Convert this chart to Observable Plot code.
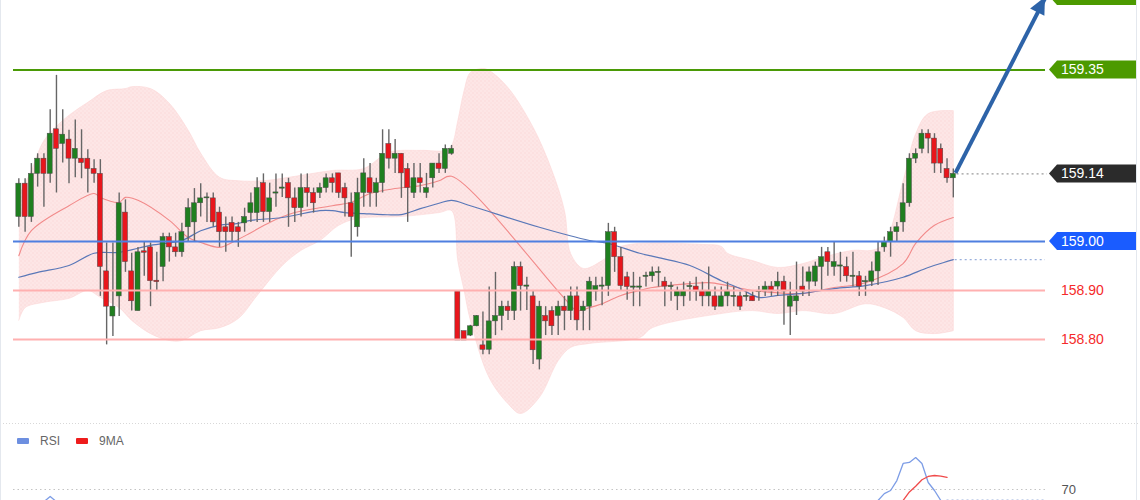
<!DOCTYPE html>
<html><head><meta charset="utf-8">
<script src="https://cdn.jsdelivr.net/npm/d3@7"></script>
<script src="https://cdn.jsdelivr.net/npm/@observablehq/plot@0.6"></script>
<style>
body{margin:0;background:#fff;font-family:"Liberation Sans",Arial,sans-serif}
#chart svg{display:block;overflow:hidden;background:#fff}
</style>
</head><body><div id="chart"></div>
<script>
// ---- candle data (index 0..149) ----
const opens = [159.050,159.118,159.050,159.138,159.169,159.138,159.229,159.199,159.208,159.169,
159.169,159.169,159.148,159.138,158.939,158.847,158.888,159.059,158.939,158.858,
158.980,158.988,158.920,158.948,159.009,158.988,158.978,159.029,159.039,159.078,
159.088,159.088,159.059,159.029,159.038,159.029,159.037,159.058,159.058,159.119,
159.060,159.099,159.109,159.119,159.088,159.068,159.109,159.099,159.099,159.109,
159.129,159.139,159.109,159.078,159.029,159.099,159.129,159.099,159.119,159.199,
159.169,159.179,159.148,159.099,159.129,159.099,159.129,159.159,159.148,159.179,
158.898,158.817,158.808,158.827,158.788,158.779,158.837,158.848,158.867,158.858,
158.948,158.909,158.888,158.759,158.848,158.858,158.848,158.867,158.858,158.888,
158.858,158.867,158.898,158.909,158.909,159.019,158.968,158.927,158.907,158.907,
158.929,158.929,158.937,158.918,158.908,158.888,158.888,158.908,158.908,158.898,
158.888,158.888,158.867,158.888,158.888,158.888,158.888,158.888,158.898,158.898,
158.908,158.908,158.918,158.867,158.878,158.908,158.918,158.918,158.948,158.978,
158.948,158.950,158.948,158.929,158.929,158.918,158.918,158.939,158.988,158.999,
159.019,159.039,159.078,159.169,159.189,159.220,159.210,159.189,159.148,159.129];
const highs = [159.128,159.128,159.159,159.179,159.179,159.269,159.339,159.269,159.227,159.248,
159.228,159.187,159.167,159.167,158.997,158.997,159.099,159.085,158.976,158.988,
158.999,158.997,158.978,159.017,159.017,159.017,159.037,159.087,159.108,159.118,
159.099,159.099,159.070,159.050,159.050,159.039,159.068,159.099,159.130,159.138,
159.119,159.138,159.138,159.129,159.109,159.138,159.138,159.109,159.119,159.138,
159.138,159.139,159.119,159.099,159.129,159.169,159.159,159.129,159.228,159.228,
159.208,159.179,159.159,159.159,159.159,159.139,159.159,159.179,159.197,159.196,
158.900,158.817,158.829,158.849,158.856,158.907,158.937,158.878,158.878,158.958,
158.958,158.927,158.898,158.878,158.867,158.867,158.878,158.888,158.907,158.907,
158.878,158.927,158.927,158.927,159.037,159.029,158.988,158.937,158.937,158.927,
158.937,158.948,158.948,158.927,158.917,158.907,158.917,158.918,158.927,158.917,
158.948,158.907,158.907,158.917,158.907,158.897,158.897,158.897,158.908,158.918,
158.918,158.937,158.929,158.917,158.958,158.948,158.948,158.958,158.988,158.988,
158.999,158.978,158.968,158.978,158.939,158.929,158.958,158.999,159.009,159.029,
159.039,159.118,159.179,159.189,159.228,159.228,159.220,159.199,159.169,159.148];
const lows = [159.029,159.019,159.039,159.111,159.070,159.119,159.099,159.160,159.118,159.130,
159.128,159.099,159.119,158.888,158.789,158.806,158.847,158.937,158.858,158.858,
158.929,158.867,158.899,158.918,158.958,158.968,158.968,158.999,158.999,159.050,
159.039,159.029,158.988,158.978,158.999,158.988,159.019,159.039,159.039,159.039,
159.039,159.070,159.090,159.029,159.039,159.050,159.070,159.058,159.088,159.099,
159.099,159.088,159.050,158.968,159.009,159.070,159.070,159.070,159.099,159.148,
159.139,159.088,159.039,159.088,159.099,159.088,159.109,159.139,159.139,159.176,
158.798,158.798,158.806,158.826,158.769,158.769,158.808,158.818,158.839,158.839,
158.858,158.859,158.749,158.738,158.808,158.808,158.808,158.818,158.839,158.818,
158.818,158.818,158.878,158.869,158.888,158.937,158.898,158.880,158.867,158.867,
158.907,158.917,158.907,158.867,158.878,158.859,158.867,158.878,158.878,158.867,
158.867,158.859,158.867,158.867,158.867,158.859,158.878,158.878,158.878,158.888,
158.888,158.888,158.829,158.808,158.849,158.888,158.888,158.908,158.900,158.929,
158.929,158.917,158.917,158.907,158.888,158.888,158.908,158.910,158.978,158.968,
158.999,159.019,159.070,159.159,159.179,159.179,159.139,159.139,159.119,159.089];
const closes = [159.118,159.050,159.138,159.169,159.138,159.220,159.189,159.218,159.169,159.189,
159.160,159.148,159.138,158.948,158.867,158.867,159.078,158.958,158.878,158.978,
158.977,158.919,158.917,159.009,158.988,158.978,159.019,159.068,159.078,159.088,
159.090,159.039,159.019,159.019,159.019,159.019,159.050,159.078,159.109,159.060,
159.088,159.099,159.109,159.088,159.068,159.109,159.099,159.078,159.109,159.129,
159.119,159.099,159.088,159.050,159.099,159.139,159.099,159.119,159.179,159.169,
159.179,159.139,159.109,159.129,159.119,159.109,159.159,159.148,159.189,159.189,
158.798,158.798,158.827,158.848,158.779,158.837,158.848,158.867,158.858,158.948,
158.909,158.909,158.778,158.867,158.837,158.827,158.867,158.858,158.888,158.839,
158.867,158.918,158.909,158.909,159.019,158.968,158.909,158.907,158.907,158.907,
158.929,158.937,158.937,158.908,158.908,158.898,158.898,158.908,158.898,158.888,
158.898,158.867,158.888,158.898,158.888,158.867,158.888,158.878,158.898,158.908,
158.898,158.918,158.898,158.888,158.888,158.898,158.937,158.949,158.968,158.958,
158.958,158.950,158.929,158.929,158.908,158.918,158.939,158.978,158.999,159.019,
159.029,159.078,159.169,159.179,159.220,159.210,159.159,159.159,159.129,159.138];

// ---- overlays: [candle index, price] ----
const bbUpper = [[0,159.094],[2,159.145],[4,159.206],[7,159.247],[9,159.267],[11,159.284],[14,159.308],[17,159.312],[18,159.316],[21,159.312],[24,159.282],[27,159.227],[29,159.180],[32,159.131],[35,159.124],[39,159.124],[45,159.135],[50,159.145],[55,159.149],[59,159.182],[64,159.186],[68,159.186],[69,159.196],[70,159.247],[71,159.308],[72,159.345],[74,159.353],[75,159.349],[78,159.314],[82,159.233],[85,159.145],[87,159.063],[88,158.975],[90,158.945],[93,158.961],[96,158.990],[109,158.994],[112,158.990],[113,158.976],[117,158.961],[121,158.947],[125,158.955],[128,158.967],[133,158.982],[136,158.982],[138,158.996],[141,159.124],[143,159.220],[145,159.261],[149,159.267]];
const bbLower = [[0,158.839],[1,158.865],[4,158.876],[8,158.884],[11,158.900],[13,158.886],[16,158.865],[18,158.839],[21,158.812],[24,158.798],[26,158.798],[29,158.818],[32,158.824],[35,158.843],[38,158.890],[42,158.951],[45,158.982],[48,159.002],[51,159.033],[54,159.047],[61,159.051],[67,159.059],[69,159.063],[70,158.960],[71,158.900],[72,158.839],[75,158.722],[78,158.669],[80,158.649],[83,158.682],[86,158.757],[88,158.784],[91,158.792],[99,158.804],[101,158.824],[112,158.853],[117,158.859],[121,158.853],[125,158.859],[130,158.853],[135,158.873],[138,158.865],[141,158.845],[143,158.818],[146,158.812],[149,158.818]];
const maRed = [[0,158.971],[2,159.022],[8,159.073],[12,159.098],[13,159.090],[16,159.080],[17,159.090],[19,159.084],[24,159.043],[27,159.008],[29,158.998],[32,158.988],[34,158.998],[37,159.018],[40,159.039],[44,159.059],[50,159.073],[53,159.080],[56,159.098],[60,159.108],[64,159.114],[67,159.124],[69,159.133],[87,158.884],[89,158.859],[91,158.865],[93,158.873],[96,158.890],[99,158.900],[101,158.906],[107,158.914],[110,158.916],[113,158.910],[117,158.900],[123,158.894],[125,158.894],[130,158.906],[135,158.916],[141,158.955],[143,158.996],[146,159.033],[149,159.049]];
const maBlue = [[0,158.927],[3,158.937],[8,158.951],[12,158.976],[16,158.978],[21,158.992],[26,159.002],[29,159.022],[32,159.033],[35,159.037],[37,159.043],[42,159.049],[48,159.063],[50,159.063],[52,159.059],[55,159.057],[58,159.055],[61,159.055],[64,159.067],[67,159.078],[69,159.084],[72,159.073],[83,159.029],[91,159.002],[94,158.996],[99,158.976],[102,158.967],[107,158.951],[112,158.920],[115,158.904],[118,158.886],[121,158.890],[125,158.894],[130,158.904],[135,158.910],[141,158.927],[145,158.947],[149,158.963]];

// ---- levels / tags ----
const levelPrices = [159.35, 159.00, 158.90, 158.80];
const levelColors = ["#4a9a06", "#4f7fe0", "#ffb0b0", "#ffb0b0"];
const targetPrice = 159.50;
const arrowFrom = [149.35, 159.14];
const arrowTo = [163.7, 159.498];

// ---- RSI panel ----
const rsiLeft = [[3,60],[4,62.5],[5,65.7],[6,62.5],[7,60]];
const rsiRight = [[136,58],[137,63.3],[138,67.5],[139,69.4],[140,75.5],[141,86.0],[142,86.6],[143,89.6],[144,86.0],[145,74.3],[146,69.4],[147,63.3],[148,57]];
const ma9 = [[140,60],[141,63.3],[142,68.5],[143,72],[144,76],[145,78],[146,78.6],[147,78.2],[148,77.4]];
const rsiLevel = 70;
const rsiCurrent = 63.5;

const FONT = "Liberation Sans, Arial, sans-serif";
const candles = opens.map((o, i) => ({i, o, h: highs[i], l: lows[i], c: closes[i]}));
const up = candles.filter(d => d.c >= d.o);
const down = candles.filter(d => d.c < d.o);
const bodyTop = d => Math.abs(d.o - d.c) < 0.002 ? (d.o + d.c) / 2 + 0.0012 : Math.max(d.o, d.c);
const bodyBot = d => Math.abs(d.o - d.c) < 0.002 ? (d.o + d.c) / 2 - 0.0012 : Math.min(d.o, d.c);
// closed outline: repeat the corner points so the smooth curve keeps square ends
const uLast = bbUpper[bbUpper.length - 1], lLast = bbLower[bbLower.length - 1];
const bandOutline = [bbUpper[0], ...bbUpper, uLast, lLast, ...bbLower.slice().reverse(), bbLower[0]];
const lastClose = closes[closes.length - 1];
const lastIdx = candles.length - 1;
const xDomain = [-0.85, 163.7];

const main = Plot.plot({
  width: 1140, height: 423,
  marginTop: 0, marginBottom: 0, marginLeft: 13, marginRight: 95,
  x: {domain: xDomain, axis: null},
  y: {domain: [158.6286, 159.4918], axis: null},
  marks: [
    Plot.line(bandOutline, {x: d => d[0], y: d => d[1], curve: "catmull-rom", fill: "url(#bbdots)", stroke: "#fbd6d6", strokeWidth: 0.6}),
    Plot.line(maRed, {x: d => d[0], y: d => d[1], curve: "catmull-rom", stroke: "#f28a8a", strokeWidth: 1.1}),
    Plot.line(maBlue, {x: d => d[0], y: d => d[1], curve: "catmull-rom", stroke: "#5a78b8", strokeWidth: 1.2}),
    Plot.ruleX(candles, {x: "i", y1: "l", y2: "h", stroke: "#666", strokeWidth: 1.4}),
    Plot.rect(up, {x1: d => d.i - 0.4, x2: d => d.i + 0.4, y1: bodyBot, y2: bodyTop, fill: "#1f7f1f", stroke: "#4a4a4a", strokeWidth: 0.5}),
    Plot.rect(down, {x1: d => d.i - 0.4, x2: d => d.i + 0.4, y1: bodyBot, y2: bodyTop, fill: "#e8161c", stroke: "#4a4a4a", strokeWidth: 0.5}),
    Plot.ruleY(levelPrices, {y: d => d, stroke: (d, i) => levelColors[i], strokeWidth: 2}),
    Plot.ruleY([lastClose], {x1: lastIdx + 0.6, x2: xDomain[1] + 0.3, stroke: "#9a9a9a", strokeDasharray: "2,3", strokeWidth: 1.2}),
    Plot.ruleY([maBlue[maBlue.length - 1][1]], {x1: lastIdx + 0.3, x2: xDomain[1], stroke: "#9ab0dc", strokeDasharray: "2,3", strokeWidth: 1.2}),
    Plot.link([0], {x1: arrowFrom[0], y1: arrowFrom[1], x2: arrowTo[0], y2: arrowTo[1], stroke: "#2d63a8", strokeWidth: 4})
  ]
});

// pattern for Bollinger band
const svg = d3.select(main);
const pat = svg.insert("defs", ":first-child").append("pattern")
  .attr("id", "bbdots").attr("width", 4).attr("height", 4).attr("patternUnits", "userSpaceOnUse");
pat.append("rect").attr("width", 4).attr("height", 4).attr("fill", "#fde6e6");
pat.append("rect").attr("x", 0).attr("y", 0).attr("width", 1).attr("height", 1).attr("fill", "#f7cccc");
pat.append("rect").attr("x", 2).attr("y", 2).attr("width", 1).attr("height", 1).attr("fill", "#f9d4d4");

const sx = main.scale("x"), sy = main.scale("y");
// arrow head
{
  const x1 = sx.apply(arrowFrom[0]), y1 = sy.apply(arrowFrom[1]);
  const x2 = sx.apply(arrowTo[0]), y2 = sy.apply(arrowTo[1]);
  const dx = x2 - x1, dy = y2 - y1, len = Math.hypot(dx, dy);
  const ux = dx / len, uy = dy / len, L = 17, Wd = 8;
  const bx = x2 - ux * L, by = y2 - uy * L;
  svg.append("polygon").attr("fill", "#2d63a8")
    .attr("points", [[x2, y2], [bx - uy * Wd, by + ux * Wd], [bx + uy * Wd, by - ux * Wd]].map(p => p.join(",")).join(" "));
}
// price tags
const tags = [
  {v: targetPrice, bg: "#4c9a00", text: false},
  {v: levelPrices[0], bg: "#4c9a00", text: true},
  {v: lastClose, bg: "#2b2b2b", text: true},
  {v: levelPrices[1], bg: "#1a5cff", text: true}
];
const g = svg.append("g").attr("text-anchor", "start");
for (const t of tags) {
  const yy = sy.apply(t.v);
  g.append("polygon").attr("fill", t.bg)
    .attr("points", `1049,${yy} 1057,${yy - 9} 1136,${yy - 9} 1136,${yy + 9} 1057,${yy + 9}`);
  if (t.text) g.append("text").attr("x", 1061).attr("y", yy + 5).attr("fill", "#fff").attr("text-anchor", "start")
    .attr("font-size", 14).attr("font-family", FONT).text(t.v.toFixed(2));
}
for (const p of levelPrices.slice(2)) {
  g.append("text").attr("x", 1061).attr("y", sy.apply(p) + 5).attr("fill", "#f52a2a").attr("text-anchor", "start")
    .attr("font-size", 14).attr("font-family", FONT).text(p.toFixed(2));
}
svg.append("line").attr("x1", 0.5).attr("x2", 0.5).attr("y1", 0).attr("y2", 423).attr("stroke", "#e4e8ee");
svg.append("line").attr("x1", 1136.5).attr("x2", 1136.5).attr("y1", 0).attr("y2", 423).attr("stroke", "#e4e8ee");

// ---- RSI panel ----
const rsiPanel = Plot.plot({
  width: 1140, height: 77,
  marginTop: 0, marginBottom: 0, marginLeft: 13, marginRight: 95,
  x: {domain: xDomain, axis: null},
  y: {domain: [63.25, 110.5], axis: null},
  marks: [
    Plot.ruleY([rsiLevel], {stroke: "#c4c4c4", strokeDasharray: "1.5,3", strokeWidth: 1.2}),
    Plot.ruleY([rsiCurrent], {x1: ma9[ma9.length - 1][0], x2: xDomain[1], stroke: "#9ab0dc", strokeDasharray: "2,3", strokeWidth: 1.2}),
    Plot.line(rsiLeft, {x: d => d[0], y: d => d[1], stroke: "#7d9de6", strokeWidth: 1.3, clip: true}),
    Plot.line(rsiRight, {x: d => d[0], y: d => d[1], stroke: "#7d9de6", strokeWidth: 1.3, clip: true}),
    Plot.line(ma9, {x: d => d[0], y: d => d[1], stroke: "#f04a4a", strokeWidth: 1.3, clip: true}),
    Plot.text([rsiLevel], {y: d => d, x: xDomain[1], dx: 16, text: d => String(d), textAnchor: "start", fill: "#555", fontSize: 13, fontFamily: FONT})
  ]
});
const rs = d3.select(rsiPanel);
rs.append("line").attr("x1", 0).attr("x2", 1140).attr("y1", 0.5).attr("y2", 0.5)
  .attr("stroke", "#d8d8d8").attr("stroke-dasharray", "1,2");
const leg = [{label: "RSI", color: "#6d8fe0", x: 17}, {label: "9MA", color: "#ee1c1c", x: 76}];
for (const l of leg) {
  rs.append("rect").attr("x", l.x).attr("y", 15).attr("width", 12).attr("height", 6).attr("rx", 1).attr("fill", l.color);
  rs.append("text").attr("x", l.x + 23).attr("y", 22).attr("fill", "#666").attr("font-size", 12).attr("text-anchor", "start")
    .attr("font-family", FONT).text(l.label);
}
rs.append("line").attr("x1", 0.5).attr("x2", 0.5).attr("y1", 0).attr("y2", 77).attr("stroke", "#e4e8ee");
rs.append("line").attr("x1", 1136.5).attr("x2", 1136.5).attr("y1", 0).attr("y2", 77).attr("stroke", "#e4e8ee");

document.getElementById("chart").append(main, rsiPanel);
</script>
</body></html>
